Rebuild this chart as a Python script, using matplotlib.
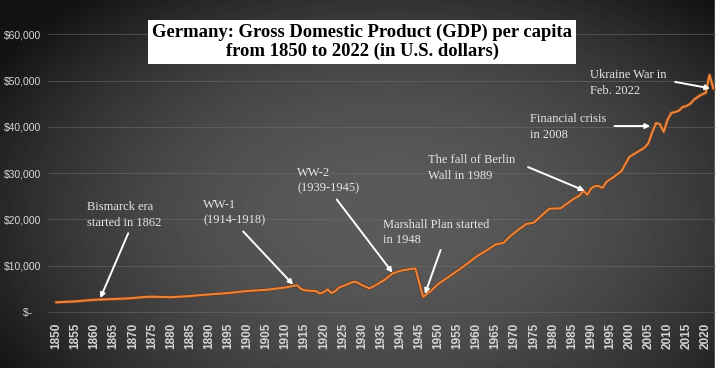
import numpy as np
import matplotlib
matplotlib.use("Agg")
import matplotlib.pyplot as plt
import matplotlib.patheffects as pe

# GDP per capita
years = [1850, 1855, 1860, 1865, 1870, 1873, 1875, 1880, 1885, 1890, 1895, 1900,
         1905, 1910, 1913, 1914, 1915, 1918, 1919, 1920, 1921, 1922, 1923, 1924,
         1925, 1927, 1928, 1929, 1930, 1932, 1934, 1936, 1938, 1940, 1942, 1944,
         1946, 1947, 1948, 1950, 1952, 1955, 1958, 1960, 1963, 1965, 1967, 1969,
         1971, 1973, 1975, 1977, 1979, 1982, 1985, 1987, 1988, 1989, 1990, 1991,
         1992, 1993, 1994, 1996, 1998, 2000, 2002, 2004, 2005, 2006, 2007, 2008,
         2009, 2010, 2011, 2012, 2013, 2014, 2015, 2016, 2017, 2018, 2019, 2020,
         2021, 2022]
gdp = [2100, 2300, 2650, 2800, 3000, 3250, 3300, 3200, 3450, 3800, 4100, 4550,
       4800, 5300, 5800, 5000, 4700, 4500, 4000, 4300, 4900, 4100, 4500, 5300,
       5600, 6300, 6550, 6300, 5800, 5100, 6000, 7000, 8300, 8900, 9200, 9400,
       3300, 3900, 4500, 6100, 7200, 8900, 10700, 12000, 13500, 14600, 14900, 16500,
       17800, 19000, 19300, 20800, 22300, 22400, 24200, 25200, 26200, 25300, 26700, 27200,
       27200, 26800, 28100, 29200, 30500, 33500, 34500, 35500, 36500, 38800, 40800, 40600,
       38900, 41500, 43000, 43200, 43500, 44300, 44500, 45000, 45900, 46500, 47000, 47300,
       51200, 48300]

tick_years = list(range(1850, 2021, 5))
y_ticks = [0, 10000, 20000, 30000, 40000, 50000, 60000]
y_labels = ["$-   ", "$10,000", "$20,000", "$30,000", "$40,000", "$50,000", "$60,000"]

title = "Germany: Gross Domestic Product (GDP) per capita\nfrom 1850 to 2022 (in U.S. dollars)"

# (label, text position, arrow start, arrow tip) in data units
notes = [
    ("Bismarck era\nstarted in 1862", (1858.0, 20950), (1868.8, 17000), (1861.5, 3000)),
    ("WW-1\n(1914-1918)", (1888.4, 21380), (1898.9, 17400), (1912.0, 5900)),
    ("WW-2\n(1939-1945)", (1913.0, 28290), (1923.4, 24300), (1938.0, 8500)),
    ("Marshall Plan started\nin 1948", (1935.5, 17170), (1950.6, 13400), (1946.5, 3900)),
    ("The fall of Berlin\nWall in 1989", (1947.3, 31100), (1973.5, 31300), (1988.3, 26200)),
    ("Financial crisis\nin 2008", (1974.0, 39960), (1996.1, 40170), (2005.5, 40170)),
    ("Ukraine War in\nFeb. 2022", (1989.7, 49460), (2012.0, 49700), (2021.2, 48300)),
]

W, H = 720, 368
fig = plt.figure(figsize=(W / 100, H / 100), dpi=100)

# dark vignette background
bg = fig.add_axes([0, 0, 1, 1], zorder=-10)
yy, xx = np.mgrid[0:H, 0:W]
r = np.sqrt(((xx - 390) / 430.0) ** 2 + ((yy - 215) / 270.0) ** 2)
shade = np.clip(90 - 62 * r ** 2, 18, 90) / 255.0
bg.imshow(shade, cmap="gray", vmin=0, vmax=1, aspect="auto", extent=[0, W, H, 0])
bg.axvspan(715, W, color="white")
bg.set_xlim(0, W)
bg.set_ylim(H, 0)
bg.axis("off")

ax = fig.add_axes([48 / W, (H - 316) / H, (716 - 48) / W, (316 - 20) / H])
ax.patch.set_alpha(0)
ax.set_xlim(1847.8, 2022.7)
ax.set_ylim(-860, 63070)

ax.plot(years, gdp, color="#e8843c", lw=1.5, solid_joinstyle="round",
        path_effects=[pe.Stroke(linewidth=2.6, foreground="#6b3a1c"), pe.Normal()], zorder=3)

ax.set_yticks(y_ticks)
ax.set_yticklabels(y_labels, family="Liberation Sans", fontsize=7.5, color="#d8d8d8")
ax.set_xticks(tick_years)
ax.set_xticklabels([str(t) for t in tick_years], rotation=90, family="Liberation Sans",
                   fontweight="bold", fontsize=8.5, color="#d4d4d4")
ax.tick_params(length=0, pad=5)
ax.grid(axis="y", color="#707070", lw=0.6, alpha=0.6)
for s in ax.spines.values():
    s.set_visible(False)

for label, txt, start, tip in notes:
    ax.text(txt[0], txt[1], label, family="Liberation Serif", fontsize=9,
            color="#e6e6e6", ha="left", va="center", linespacing=1.35)
    ax.annotate("", xy=tip, xytext=start,
                arrowprops=dict(arrowstyle="-|>", color="white", lw=1.4,
                                mutation_scale=7, shrinkA=0, shrinkB=0), zorder=4)

fig.text(0.503, 0.886, title, family="Liberation Serif", fontweight="bold", fontsize=13.4,
         ha="center", va="center", color="black", linespacing=1.12,
         bbox=dict(boxstyle="square,pad=0.22", facecolor="white", edgecolor="none"))

fig.savefig("out.png", dpi=100)
